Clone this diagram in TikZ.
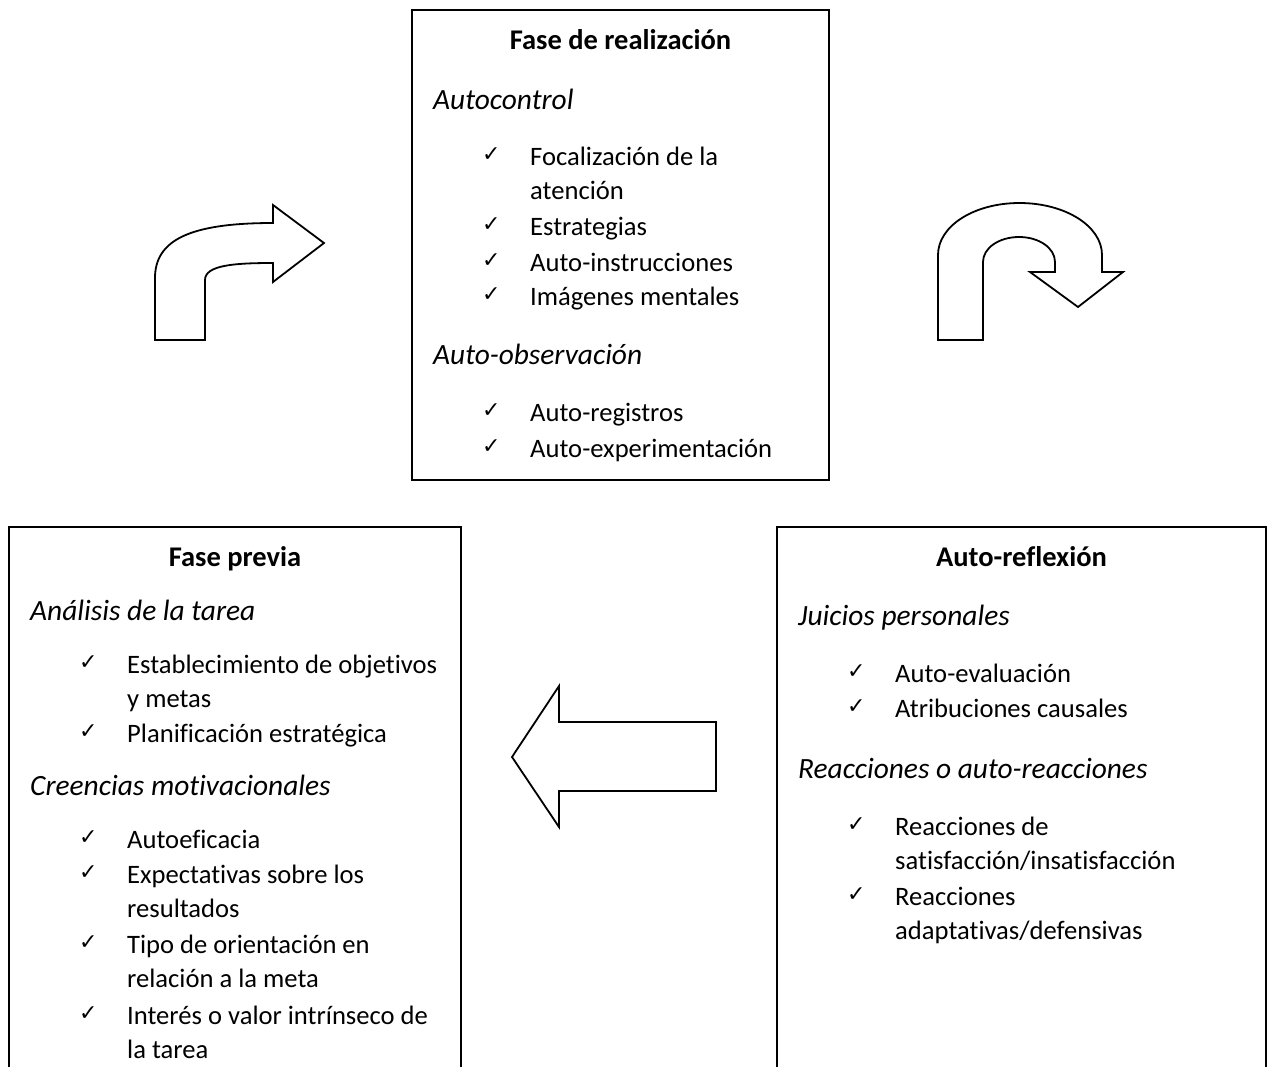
\documentclass[tikz,border=0pt]{standalone}
\usepackage{fontspec}
\setmainfont{Carlito}[Ligatures=NoCommon]
\newfontfamily\chkfont{DejaVu Sans}
\tikzset{
  frame/.style={line width=1.8pt, line join=miter},
  blockarrow/.style={line width=1.8pt, line join=miter, fill=white},
  ttl/.style={anchor=base, inner sep=0pt, font=\fontsize{28.5}{30}\selectfont\bfseries},
  sub/.style={anchor=base west, inner sep=0pt, font=\fontsize{29.4}{30}\selectfont\itshape},
  itm/.style={anchor=base west, inner sep=0pt, font=\fontsize{26.6}{30}\selectfont},
  chk/.style={anchor=base west, inner sep=0pt, font=\fontsize{22}{24}\selectfont\chkfont\bfseries},
}
\begin{document}
\begin{tikzpicture}[x=1pt,y=-1pt]
\useasboundingbox (0,0) rectangle (1272,1066);
% boxes
\draw[frame] (412,10) rectangle (829,480);
\draw[frame] (9,1070) -- (9,527) -- (461,527) -- (461,1070);
\draw[frame] (777,1070) -- (777,527) -- (1266,527) -- (1266,1070);

% bent arrow (up-right)
\draw[blockarrow] (155,340) -- (155,278) .. controls (155,240) and (190,223) .. (273,223)
  -- (273,205) -- (324,243) -- (273,282) -- (273,263)
  .. controls (235,263) and (205,265) .. (205,280) -- (205,340) -- cycle;

% U-turn arrow
\draw[blockarrow] (938,340) -- (938,255)
  .. controls (938,226) and (974,203) .. (1019.5,203)
  .. controls (1065,203) and (1102,226) .. (1102,255)
  -- (1102,272) -- (1123,272) -- (1078,307) -- (1030,272) -- (1055,272) -- (1055,262)
  .. controls (1055,248) and (1039,237) .. (1019,237)
  .. controls (999,237) and (983,248) .. (983,262)
  -- (983,340) -- cycle;

% left arrow
\draw[blockarrow] (716,722) -- (559,722) -- (559,686) -- (512,757) -- (559,827) -- (559,791) -- (716,791) -- cycle;

% top box text
\node[ttl] (t0) at (620.5,49) {Fase de realización};
\node[sub] (ts1) at (433,109) {Autocontrol};
\node[chk] (tc1) at (482,161) {✓};
\node[itm] (ti1) at (530,165) {Focalización de la};
\node[itm] (ti1b) at (530,199) {atención};
\node[chk] (tc2) at (482,231) {✓};
\node[itm] (ti2) at (530,235) {Estrategias};
\node[chk] (tc3) at (482,267) {✓};
\node[itm] (ti3) at (530,271) {Auto-instrucciones};
\node[chk] (tc4) at (482,301) {✓};
\node[itm] (ti4) at (530,305) {Imágenes mentales};
\node[sub] (ts2) at (433,364) {Auto-observación};
\node[chk] (tc5) at (482,417) {✓};
\node[itm] (ti5) at (530,421) {Auto-registros};
\node[chk] (tc6) at (482,453) {✓};
\node[itm] (ti6) at (530,457) {Auto-experimentación};

% left box text
\node[ttl] (l0) at (235,566) {Fase previa};
\node[sub] (ls1) at (30,620) {Análisis de la tarea};
\node[chk] (lc1) at (79,669) {✓};
\node[itm] (li1) at (127,673) {Establecimiento de objetivos};
\node[itm] (li1b) at (127,707) {y metas};
\node[chk] (lc2) at (79,738) {✓};
\node[itm] (li2) at (127,742) {Planificación estratégica};
\node[sub] (ls2) at (30,795) {Creencias motivacionales};
\node[chk] (lc3) at (79,844) {✓};
\node[itm] (li3) at (127,848) {Autoeficacia};
\node[chk] (lc4) at (79,879) {✓};
\node[itm] (li4) at (127,883) {Expectativas sobre los};
\node[itm] (li4b) at (127,917) {resultados};
\node[chk] (lc5) at (79,949) {✓};
\node[itm] (li5) at (127,953) {Tipo de orientación en};
\node[itm] (li5b) at (127,987) {relación a la meta};
\node[chk] (lc6) at (79,1020) {✓};
\node[itm] (li6) at (127,1024) {Interés o valor intrínseco de};
\node[itm] (li6b) at (127,1058) {la tarea};

% right box text
\node[ttl] (r0) at (1021.5,566) {Auto-reflexión};
\node[sub] (rs1) at (798,625) {Juicios personales};
\node[chk] (rc1) at (847,678) {✓};
\node[itm] (ri1) at (895,682) {Auto-evaluación};
\node[chk] (rc2) at (847,713) {✓};
\node[itm] (ri2) at (895,717) {Atribuciones causales};
\node[sub] (rs2) at (798,778) {Reacciones o auto-reacciones};
\node[chk] (rc3) at (847,831) {✓};
\node[itm] (ri3) at (895,835) {Reacciones de};
\node[itm] (ri3b) at (895,869) {satisfacción/insatisfacción};
\node[chk] (rc4) at (847,901) {✓};
\node[itm] (ri4) at (895,905) {Reacciones};
\node[itm] (ri4b) at (895,939) {adaptativas/defensivas};
\end{tikzpicture}
\end{document}
